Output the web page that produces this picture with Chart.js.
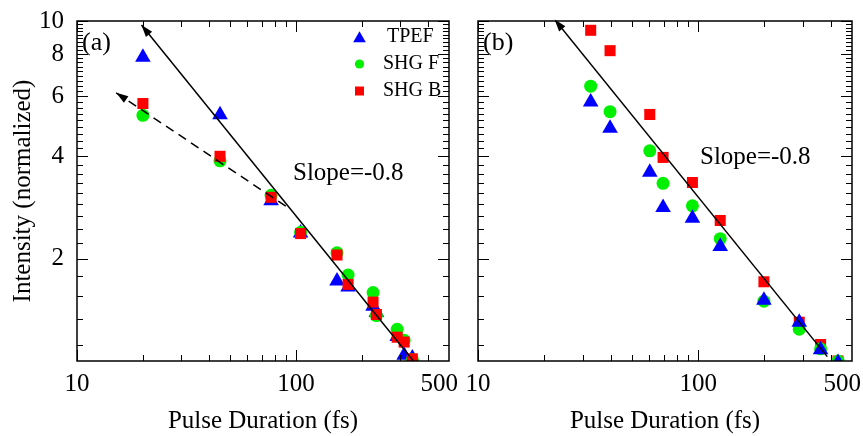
<!DOCTYPE html>
<html>
<head>
<meta charset="utf-8">
<script src="https://cdn.jsdelivr.net/npm/chart.js@4.4.1/dist/chart.umd.min.js"></script>
<style>
    html, body { margin: 0; padding: 0; background: #fff; }
    #wrap { position: relative; width: 863px; height: 436px; }
    #wrap canvas { position: absolute; left: 0; top: 0; }
</style>
</head>
<body>
<div id="wrap">
    <canvas id="panelA" width="863" height="436"></canvas>
    <canvas id="panelB" width="863" height="436"></canvas>
</div>
<script>
/* ===== Intensity vs pulse duration, two log-log panels ===== */
var FONT = '"Liberation Serif", "Times New Roman", Times, serif';
var BLUE = "#0000ff", GREEN = "#00f000", RED = "#ff0000";

/* --- Panel (a) data --- */
var durationA = [20, 45, 77, 105, 154, 173, 225, 233, 290, 312, 340];
var tpefA = [7.82, 5.3, 2.96, 2.38, 1.72, 1.65, 1.45, 1.39, 1.18, 1.04, 1.02];
var shgFA = [5.28, 3.88, 3.07, 2.39, 2.08, 1.79, 1.59, 1.36, 1.24, 1.15, 1.01];
var shgBA = [5.72, 4.0, 3.03, 2.37, 2.05, 1.68, 1.49, 1.37, 1.175, 1.137, 1.015];
var fitAX = [19.7, 344];
var fitAY = [9.73, 1.0];
var guideAX = [15.1, 90];
var guideAY = [6.15, 2.85];

/* --- Panel (b) data --- */
var durationB = [32.5, 39.8, 60.3, 69.3, 94.2, 126, 199, 288, 360, 432];
var tpefB = [5.78, 4.84, 3.59, 2.83, 2.63, 2.17, 1.51, 1.30, 1.08, 0.99];
var shgFB = [6.43, 5.41, 4.15, 3.33, 2.86, 2.29, 1.50, 1.24, 1.086, 1.0];
var shgBB = [9.39, 8.18, 5.31, 3.97, 3.35, 2.59, 1.71, 1.30, 1.118, 1.0];
var fitBX = [22.3, 386];
var fitBY = [10.1, 1.03];

/* --- Axes --- */
var xMin = 10, xMax = 500;
var yMin = 1, yMax = 10;
var xTickLabels = [10, 100, 500];
var xMajorMarks = [10, 100];
var xMinorMarks = [20, 30, 40, 50, 60, 70, 80, 90, 200, 300, 400];
var yTickLabels = [2, 4, 6, 8, 10];
var yMinorPerMajor = 8;

var seriesNames = ["TPEF", "SHG F", "SHG B"];

/* --- minor marks between the linear major steps (Grace style) --- */
function yMinorMarks() {
    var out = [];
    var edges = [0].concat(yTickLabels);
    for (var i = 0; i < edges.length - 1; i++) {
        var step = (edges[i + 1] - edges[i]) / (yMinorPerMajor + 1);
        for (var k = 1; k <= yMinorPerMajor; k++) {
            var v = edges[i] + k * step;
            if (v > yMin && v < yMax) out.push(v);
        }
    }
    return out;
}

function pts(xs, ys) {
    return xs.map(function (x, i) { return { x: x, y: ys[i] }; });
}

function markerSet(label, xs, ys, style, color, radius) {
    return {
        label: label,
        data: pts(xs, ys),
        pointStyle: style,
        pointRadius: radius,
        pointBackgroundColor: color,
        pointBorderWidth: 0,
        showLine: false,
        clip: 0
    };
}

function lineSet(xs, ys, dash) {
    return {
        data: pts(xs, ys),
        showLine: true,
        borderColor: "#000",
        borderWidth: 1.5,
        borderDash: dash || [],
        pointRadius: 0,
        fill: false,
        clip: 0,
        arrow: true
    };
}

/* --- small drawing helper for the legend markers --- */
function drawMarker(ctx, style, x, y, r, color) {
    ctx.fillStyle = color;
    ctx.beginPath();
    if (style === "triangle") {
        ctx.moveTo(x, y - r);
        ctx.lineTo(x + r * 0.866, y + r / 2);
        ctx.lineTo(x - r * 0.866, y + r / 2);
        ctx.closePath();
    } else if (style === "circle") {
        ctx.arc(x, y, r, 0, Math.PI * 2);
    } else {
        ctx.rect(x - r, y - r, 2 * r, 2 * r);
    }
    ctx.fill();
}

/* --- Arrow heads at the first point of fit lines --- */
var arrowHeads = {
    id: "arrowHeads",
    afterDatasetsDraw: function (chart) {
        var ctx = chart.ctx;
        chart.data.datasets.forEach(function (ds, i) {
            if (!ds.arrow) return;
            var meta = chart.getDatasetMeta(i);
            var p0 = meta.data[0], p1 = meta.data[1];
            var ang = Math.atan2(p0.y - p1.y, p0.x - p1.x);
            var len = 12, half = 4;
            var bx = p0.x - Math.cos(ang) * len, by = p0.y - Math.sin(ang) * len;
            ctx.save();
            ctx.fillStyle = "#000";
            ctx.beginPath();
            ctx.moveTo(p0.x, p0.y);
            ctx.lineTo(bx - Math.sin(ang) * half, by + Math.cos(ang) * half);
            ctx.lineTo(bx + Math.sin(ang) * half, by - Math.cos(ang) * half);
            ctx.closePath();
            ctx.fill();
            ctx.restore();
        });
    }
};

/* --- Frame, inward ticks, x labels, panel tag, slope text, legend --- */
var panelDecor = {
    id: "panelDecor",
    afterDraw: function (chart) {
        var o = chart.options.plugins.panelDecor;
        var ctx = chart.ctx, a = chart.chartArea;
        var xs = chart.scales.x, ys = chart.scales.y;
        ctx.save();
        ctx.strokeStyle = "#000";
        ctx.lineWidth = 1;

        function seg(x1, y1, x2, y2) {
            ctx.beginPath();
            ctx.moveTo(x1, y1);
            ctx.lineTo(x2, y2);
            ctx.stroke();
        }
        function xMark(v, len) {
            var px = Math.round(xs.getPixelForValue(v)) + 0.5;
            seg(px, a.bottom, px, a.bottom - len);
            seg(px, a.top, px, a.top + len);
        }
        function yMark(v, len) {
            var py = Math.round(ys.getPixelForValue(v)) + 0.5;
            seg(a.left, py, a.left + len, py);
            seg(a.right, py, a.right - len, py);
        }
        xMajorMarks.forEach(function (v) { xMark(v, 11); });
        xMinorMarks.forEach(function (v) { xMark(v, 6); });
        yTickLabels.forEach(function (v) { yMark(v, 11); });
        yMinorMarks().forEach(function (v) { yMark(v, 6); });

        ctx.lineWidth = 1.5;
        ctx.strokeRect(a.left, a.top, a.right - a.left, a.bottom - a.top);

        ctx.fillStyle = "#000";
        ctx.textBaseline = "middle";

        // x tick labels; the end label sits flush right like the original
        ctx.font = "25px " + FONT;
        xTickLabels.forEach(function (v, i) {
            var px = xs.getPixelForValue(v);
            if (i === xTickLabels.length - 1) {
                ctx.textAlign = "right";
                px += 9;
            } else {
                ctx.textAlign = "center";
            }
            ctx.fillText(String(v), px, a.bottom + 23);
        });

        ctx.textAlign = "left";
        ctx.font = "26px " + FONT;
        ctx.fillText(o.tag, o.tagX, o.tagY);
        ctx.font = "25px " + FONT;
        ctx.fillText("Slope=-0.8", o.slopeX, o.slopeY);

        if (o.legend) {
            var styles = ["triangle", "circle", "rect"];
            var colors = [BLUE, GREEN, RED];
            var sizes = [7.3, 4.6, 4.5];
            var rows = [37, 64, 91];
            ctx.font = "20px " + FONT;
            for (var i = 0; i < seriesNames.length; i++) {
                drawMarker(ctx, styles[i], 359.5, rows[i] + (i === 0 ? 1.5 : 0), sizes[i], colors[i]);
                ctx.fillStyle = "#000";
                ctx.fillText(seriesNames[i], i === 0 ? 387 : 383, rows[i]);
            }
        }
        ctx.restore();
    }
};

/* --- Shared scale setup --- */
function makeScales(yWidth, showY) {
    return {
        x: {
            type: "logarithmic",
            position: "bottom",
            min: xMin,
            max: xMax,
            afterBuildTicks: function (s) {
                s.ticks = xTickLabels.map(function (v) { return { value: v }; });
            },
            afterFit: function (s) {
                s.height = 75;
                s.paddingLeft = 0;
                s.paddingRight = 0;
            },
            grid: { display: false, drawTicks: false },
            border: { display: false },
            ticks: { display: false },
            title: {
                display: true,
                text: "Pulse Duration (fs)",
                color: "#000",
                font: { size: 25 },
                padding: { top: 0, bottom: 0 }
            }
        },
        y: {
            type: "logarithmic",
            position: "left",
            min: yMin,
            max: yMax,
            afterBuildTicks: function (s) {
                s.ticks = yTickLabels.map(function (v) { return { value: v }; });
            },
            afterFit: function (s) {
                s.width = yWidth;
                s.paddingTop = 0;
                s.paddingBottom = 0;
            },
            grid: { display: false, drawTicks: false },
            border: { display: false },
            ticks: {
                display: showY,
                autoSkip: false,
                padding: 13,
                color: "#000",
                font: { size: 25 },
                callback: function (v) { return String(v); }
            },
            title: {
                display: showY,
                text: "Intensity (normalized)",
                color: "#000",
                font: { size: 25 },
                padding: { top: 8, bottom: 0 }
            }
        }
    };
}

function baseOptions(pad, yWidth, showY, decor) {
    return {
        responsive: false,
        animation: false,
        devicePixelRatio: 1,
        events: [],
        layout: { padding: pad },
        scales: makeScales(yWidth, showY),
        plugins: {
            legend: { display: false },
            tooltip: { enabled: false },
            panelDecor: decor
        }
    };
}

Chart.defaults.font.family = FONT;
Chart.defaults.color = "#000";

/* --- Panel (a) --- */
new Chart(document.getElementById("panelA"), {
    type: "scatter",
    data: {
        datasets: [
            lineSet(fitAX, fitAY),
            lineSet(guideAX, guideAY, [9, 6]),
            markerSet("SHG B", durationA, shgBA, "rect", RED, 7.8),
            markerSet("SHG F", durationA, shgFA, "circle", GREEN, 6.5),
            markerSet("TPEF", durationA, tpefA, "triangle", BLUE, 9)
        ]
    },
    options: baseOptions({ left: 0, right: 414, top: 21, bottom: 0 }, 77, true,
        { tag: "(a)", tagX: 82, tagY: 43, slopeX: 293, slopeY: 173, legend: true }),
    plugins: [arrowHeads, panelDecor]
});

/* --- Panel (b) --- */
new Chart(document.getElementById("panelB"), {
    type: "scatter",
    data: {
        datasets: [
            lineSet(fitBX, fitBY),
            markerSet("TPEF", durationB, tpefB, "triangle", BLUE, 9),
            markerSet("SHG F", durationB, shgFB, "circle", GREEN, 6.5),
            markerSet("SHG B", durationB, shgBB, "rect", RED, 7.8)
        ]
    },
    options: baseOptions({ left: 0, right: 11, top: 21, bottom: 0 }, 478, false,
        { tag: "(b)", tagX: 483, tagY: 43, slopeX: 700, slopeY: 157, legend: false }),
    plugins: [arrowHeads, panelDecor]
});
</script>
</body>
</html>
